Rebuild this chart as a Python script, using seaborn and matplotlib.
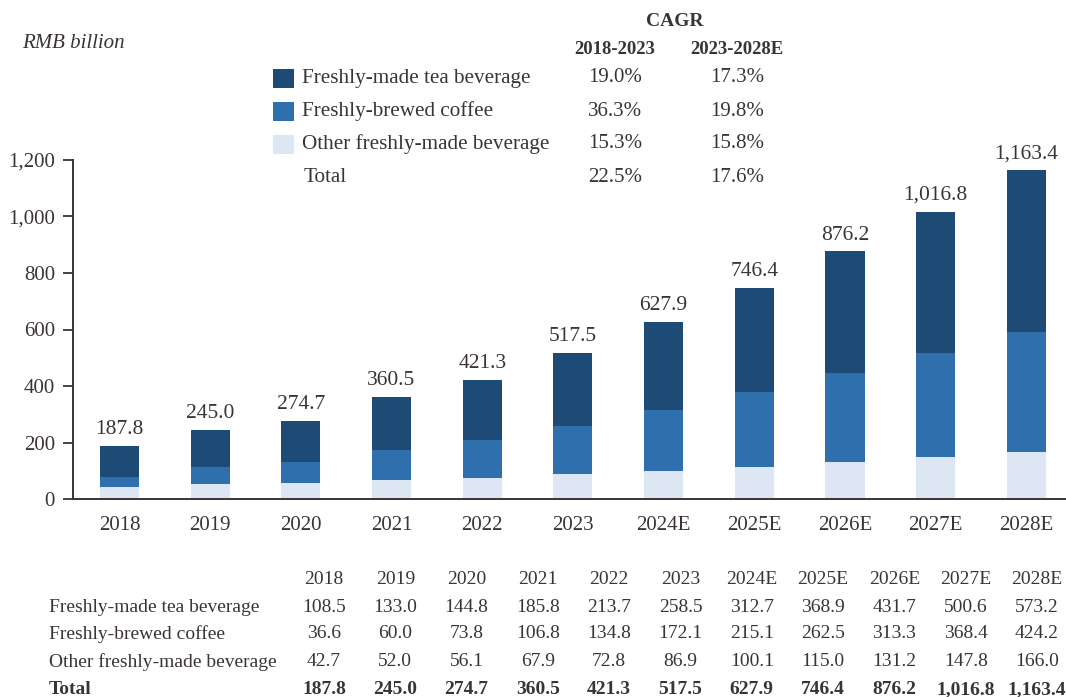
import numpy as np
import pandas as pd
import matplotlib
matplotlib.use("Agg")
import matplotlib.pyplot as plt
import seaborn as sns
from matplotlib.patches import Rectangle

# ---------------- data ----------------
years = ["2018", "2019", "2020", "2021", "2022", "2023",
         "2024E", "2025E", "2026E", "2027E", "2028E"]
tea = [108.5, 133.0, 144.8, 185.8, 213.7, 258.5, 312.7, 368.9, 431.7, 500.6, 573.2]
coffee = [36.6, 60.0, 73.8, 106.8, 134.8, 172.1, 215.1, 262.5, 313.3, 368.4, 424.2]
other = [42.7, 52.0, 56.1, 67.9, 72.8, 86.9, 100.1, 115.0, 131.2, 147.8, 166.0]
total = [187.8, 245.0, 274.7, 360.5, 421.3, 517.5, 627.9, 746.4, 876.2, 1016.8, 1163.4]
series_names = ["Freshly-made tea beverage", "Freshly-brewed coffee",
                "Other freshly-made beverage"]
total_name = "Total"
cagr_title = "CAGR"
cagr_periods = ["2018-2023", "2023-2028E"]
cagr_1823 = ["19.0%", "36.3%", "15.3%", "22.5%"]
cagr_2328 = ["17.3%", "19.8%", "15.8%", "17.6%"]
y_ticks = [0, 200, 400, 600, 800, 1000, 1200]
unit_label = "RMB billion"

# ---------------- style ----------------
DARK = "#1d4b75"
MID = "#2f6fad"
LIGHT = "#dce7f3"
TXT = "#3a3434"

sns.set_style("white")
plt.rcParams["font.family"] = ["Liberation Serif", "DejaVu Serif"]
plt.rcParams["text.color"] = TXT

W, H = 1066, 697
fig = plt.figure(figsize=(W / 100, H / 100), dpi=100)
fig.patch.set_facecolor("white")


def fx(x):
    return x / W


def fy(y):
    return 1 - y / H


ax_left, ax_right, ax_top, ax_bottom = 73, 1066, 160, 499
ax = fig.add_axes([fx(ax_left), fy(ax_bottom), (ax_right - ax_left) / W,
                   (ax_bottom - ax_top) / H])

df = pd.DataFrame({"year": years, "tea": tea, "coffee": coffee,
                   "other": other, "total": total})
df["lower2"] = df["coffee"] + df["other"]
df["lower1"] = df["other"]
df["upper"] = df["tea"] + df["lower2"]

bw = 0.43
sns.barplot(data=df, x="year", y="upper", color=DARK, saturation=1,
            width=bw, ax=ax, linewidth=0)
sns.barplot(data=df, x="year", y="lower2", color=MID, saturation=1,
            width=bw, ax=ax, linewidth=0)
sns.barplot(data=df, x="year", y="lower1", color=LIGHT, saturation=1,
            width=bw, ax=ax, linewidth=0)

ax.bar_label(ax.containers[0], labels=[f"{v:,.1f}" for v in df["total"]],
             padding=5, fontsize=15.5, color=TXT, clip_on=False)

# axes formatting
ax.set_ylim(0, 1200)
spacing = 90.7
c0 = 119.4
ax.set_xlim((ax_left - c0) / spacing, (ax_right - c0) / spacing)
ax.set_xlabel("")
ax.set_ylabel("")
ax.set_yticks(y_ticks)
ax.set_yticklabels([f"{v:,}" for v in y_ticks])
ax.set_xticks(range(len(years)))
ax.set_xticklabels(years)
ax.set_xticks(np.arange(-0.5, len(years) - 1, 1.0), minor=True)
ax.tick_params(axis="x", which="major", length=0, pad=12, labelsize=15,
               labelcolor=TXT)
ax.tick_params(axis="x", which="minor", length=7, width=1.3, color=TXT,
               direction="out")
ax.tick_params(axis="y", which="major", length=7, width=1.3, color=TXT,
               direction="out", pad=6, labelsize=15, labelcolor=TXT,
               left=True)
for side in ["top", "right"]:
    ax.spines[side].set_visible(False)
for side in ["left", "bottom"]:
    ax.spines[side].set_color(TXT)
    ax.spines[side].set_linewidth(1.4)
ax.grid(False)

# ---------------- header / legend block ----------------
fig.text(fx(22), fy(43), unit_label, fontsize=15, style="italic",
         ha="left", va="center", color=TXT)
fig.text(fx(675), fy(21), cagr_title, fontsize=14, fontweight="bold",
         ha="center", va="center", color=TXT)
col_x = [615, 737]
for cx, lab in zip(col_x, cagr_periods):
    fig.text(fx(cx), fy(49), lab, fontsize=13.5, fontweight="bold",
             ha="center", va="center", color=TXT)

row_y = [78, 111, 144, 177]
colors = [DARK, MID, LIGHT]
labels = series_names + [total_name]
for i, (ry, lab) in enumerate(zip(row_y, labels)):
    if i < 3:
        fig.patches.append(Rectangle((fx(273), fy(ry + 9.5)), 21 / W, 19 / H,
                                     transform=fig.transFigure,
                                     facecolor=colors[i], edgecolor="none"))
        tx = 302
    else:
        tx = 304
    fig.text(fx(tx), fy(ry), lab, fontsize=15.2, ha="left", va="center",
             color=TXT)
    fig.text(fx(col_x[0]), fy(ry), cagr_1823[i], fontsize=15, ha="center",
             va="center", color=TXT)
    fig.text(fx(col_x[1]), fy(ry), cagr_2328[i], fontsize=15, ha="center",
             va="center", color=TXT)

# ---------------- data table ----------------
tbl_cols = [324 + 71.3 * i for i in range(len(years))]
tbl_rows = [579, 607, 634, 662, 690]
tfs = 14
for cx, yr in zip(tbl_cols, years):
    fig.text(fx(cx), fy(tbl_rows[0]), yr, fontsize=tfs, ha="center",
             va="center", color=TXT)
table_series = [tea, coffee, other, total]
table_names = series_names + [total_name]
for r, (name, vals) in enumerate(zip(table_names, table_series)):
    ry = tbl_rows[r + 1]
    wt = "bold" if r == 3 else "normal"
    fig.text(fx(49), fy(ry), name, fontsize=tfs, ha="left", va="center",
             color=TXT, fontweight=wt)
    for cx, v in zip(tbl_cols, vals):
        fig.text(fx(cx), fy(ry), f"{v:,.1f}", fontsize=tfs, ha="center",
                 va="center", color=TXT, fontweight=wt)

fig.savefig("out.png", dpi=100, facecolor="white")
